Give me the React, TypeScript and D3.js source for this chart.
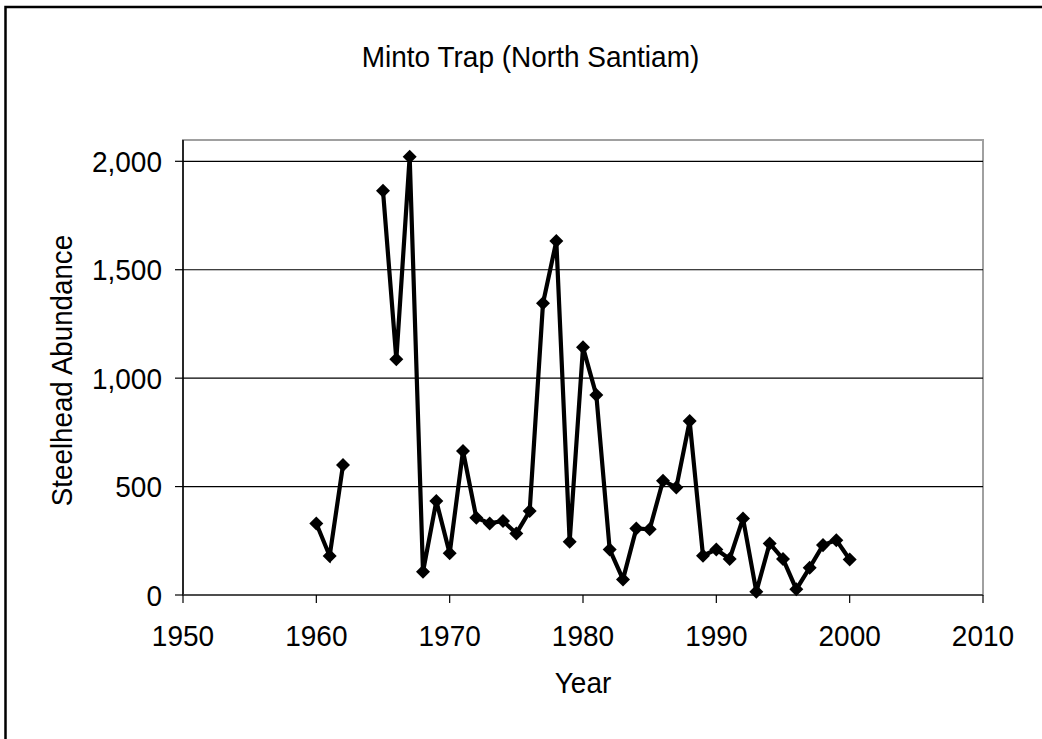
import * as d3 from "d3";

// Minto Trap steelhead counts (null = no count that year)
const years = [
  1960, 1961, 1962, 1963, 1964, 1965, 1966, 1967, 1968, 1969, 1970, 1971, 1972,
  1973, 1974, 1975, 1976, 1977, 1978, 1979, 1980, 1981, 1982, 1983, 1984, 1985,
  1986, 1987, 1988, 1989, 1990, 1991, 1992, 1993, 1994, 1995, 1996, 1997, 1998,
  1999, 2000,
];
const abundance: (number | null)[] = [
  330, 180, 599, null, null, 1864, 1087, 2021, 107, 433, 192, 664, 356,
  330, 341, 284, 387, 1345, 1632, 246, 1142, 922, 210, 72, 307, 303,
  527, 496, 802, 181, 210, 166, 353, 15, 238, 166, 26, 126, 230,
  253, 164,
];
const xTicks = [1950, 1960, 1970, 1980, 1990, 2000, 2010];
const yTicks = [0, 500, 1000, 1500, 2000];

const title = "Minto Trap (North Santiam)";
const xTitle = "Year";
const yTitle = "Steelhead Abundance";

const W = 1042;
const H = 739;
const font = "'Liberation Sans', Arial, sans-serif";

// text in the picture is a little taller than it is wide
function Label({ x, y, anchor, rotate, children }: any) {
  const tf = rotate
    ? `translate(${x}, ${y}) rotate(-90) scale(0.99, 1.07)`
    : `translate(${x}, ${y}) scale(1, 1.07)`;
  return (
    <text transform={tf} textAnchor={anchor} fontSize={28}>
      {children}
    </text>
  );
}

export default function App() {
  const left = 183;
  const right = 983;
  const top = 140;
  const bottom = 595;

  const x = d3.scaleLinear().domain([1950, 2010]).range([left, right]);
  const y = d3.scaleLinear().domain([0, 2000]).range([bottom, 161.3]);

  const pts = years.map((yr, i) => ({ yr, v: abundance[i] }));

  const line = d3
    .line<{ yr: number; v: number | null }>()
    .defined((d) => d.v !== null)
    .x((d) => x(d.yr))
    .y((d) => y(d.v as number));

  const diamond = d3.symbol().type(d3.symbolDiamond2).size(125)();

  return (
    <svg
      width={W}
      height={H}
      style={{ position: "absolute", left: 0, top: 0, background: "#fff" }}
      fontFamily={font}
    >
      <rect x={0} y={0} width={W} height={H} fill="#fff" />
      {/* outer frame runs off the picture on the right and bottom */}
      <rect x={5.5} y={7} width={W + 20} height={H + 20} fill="none" stroke="#000" strokeWidth={2.5} />

      <Label x={530.5} y={67} anchor="middle">
        {title}
      </Label>

      {/* plot area border */}
      <rect
        x={left}
        y={top}
        width={right - left}
        height={bottom - top}
        fill="#fff"
        stroke="#a0a0a0"
        strokeWidth={2}
      />

      {yTicks
        .filter((t) => t > 0)
        .map((t) => (
          <line key={t} x1={left} x2={right} y1={y(t)} y2={y(t)} stroke="#000" strokeWidth={1.2} />
        ))}

      {/* axes */}
      <line x1={left} x2={left} y1={top} y2={bottom} stroke="#000" strokeWidth={1.5} />
      <line x1={left} x2={right} y1={bottom} y2={bottom} stroke="#333" strokeWidth={1.5} />

      {yTicks.map((t) => (
        <g key={t}>
          <line x1={left - 8} x2={left} y1={y(t)} y2={y(t)} stroke="#000" strokeWidth={1.2} />
          <Label x={162} y={y(t) + 10.5} anchor="end">
            {d3.format(",")(t)}
          </Label>
        </g>
      ))}

      {xTicks.map((t) => (
        <g key={t}>
          <line x1={x(t)} x2={x(t)} y1={bottom} y2={bottom + 8} stroke="#000" strokeWidth={1.2} />
          <Label x={x(t)} y={645.5} anchor="middle">
            {t}
          </Label>
        </g>
      ))}

      <Label x={583} y={693} anchor="middle">
        {xTitle}
      </Label>
      <Label x={72} y={370.5} anchor="middle" rotate>
        {yTitle}
      </Label>

      <path
        d={line(pts) ?? ""}
        fill="none"
        stroke="#000"
        strokeWidth={4.2}
        strokeLinejoin="miter"
      />
      {pts
        .filter((d) => d.v !== null)
        .map((d) => (
          <path
            key={d.yr}
            d={diamond ?? ""}
            transform={`translate(${x(d.yr)}, ${y(d.v as number)})`}
            fill="#000"
          />
        ))}
    </svg>
  );
}
